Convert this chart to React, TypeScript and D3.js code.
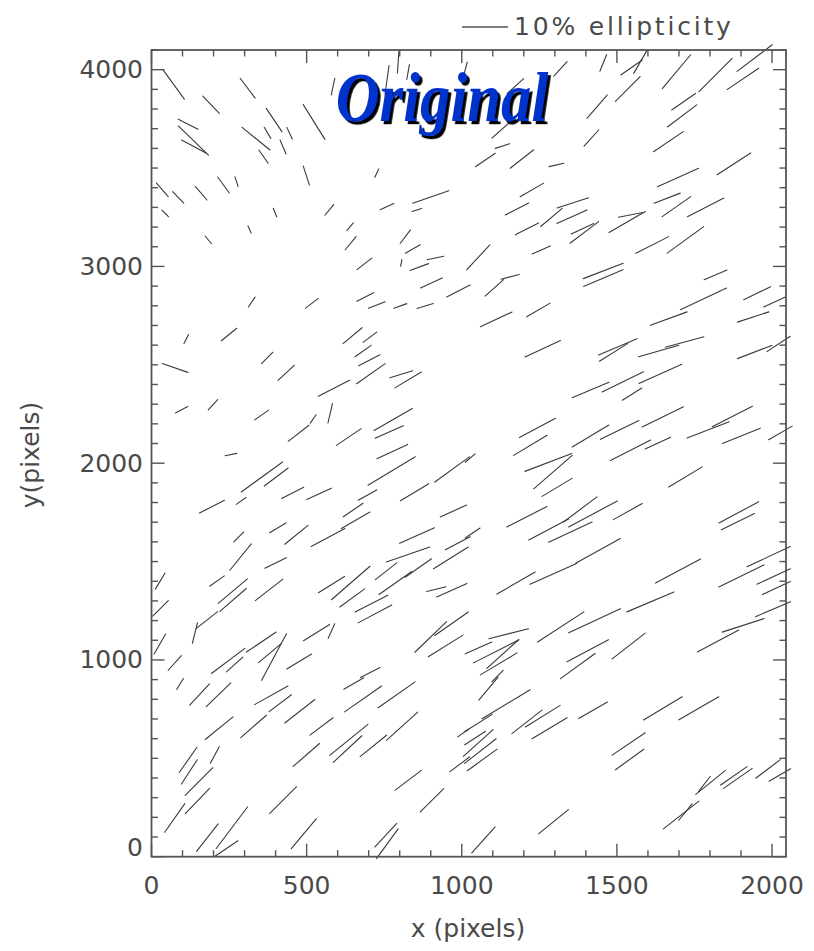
import React from "react";
import * as d3 from "d3";

// ---- stick (whisker) data: centre x, centre y (pixels), ellipticity, position angle (deg) ----
const stickX = [
  71,192,310,118,135,137,337,395,374,445,424,361,524,499,232,274,35,86,160,44,398,316,183,573,726,640,642,759,900,855,818,842,805,863,915,686,902,989,689,726,802,882,517,323,585,760,795,827,1011,
  1456,1547,1576,1692,1818,1906,1944,1715,1710,1666,1535,1436,1418,1318,1173,1127,1076,1131,1194,1305,1226,1178,1210,1289,1358,1355,1395,1389,1256,1053,1105,1156,1456,1456,1614,1533,1544,1662,1697,1692,1786,1721,1877,1818,1779,1952,2008,1247,
  112,250,76,373,434,97,198,355,588,648,704,682,702,707,805,827,521,576,474,636,779,766,776,256,356,402,455,540,774,696,848,969,
  1111,1667,1939,1261,1503,1489,1635,1718,1944,2021,1415,1519,1549,1640,1244,1221,1415,1509,1648,1794,1872,1901,2027,1279,1294,1307,1544,1632,1721,1027,
  195,289,650,973,407,281,467,569,658,856,987,287,400,211,262,263,379,28,29,140,179,27,75,247,268,354,382,395,476,532,580,580,642,647,709,720,756,786,860,827,965,918,968,900,967,948,705,
  1035,1210,1280,1382,1350,1423,1535,1893,1890,1175,1295,1439,1697,1989,1901,2005,2014,1608,1428,1319,1151,1054,1111,1119,1132,1115,1406,1374,1538,1826,1907,2003,
  92,155,216,386,415,478,218,329,548,652,682,790,636,632,715,808,499,118,122,204,153,148,75,424,180,259,241,491,827,904,755,760,993,1005,
  1086,1143,1054,1210,1261,1283,1423,1648,1764,1053,1060,1066,1043,1538,1541,1802,1782,1877,1890,1987,2025,1707,1721,1296,1070,
];
const stickY = [
  3926,3822,3906,3723,3640,3609,3649,3744,3679,3677,3607,3558,3734,3462,3414,3431,3389,3351,3372,3270,3274,3188,3135,3287,3474,3202,3118,3304,3353,3287,3151,3089,3018,2997,3043,3013,2916,2875,2845,2804,2799,2799,2813,2819,3914,3958,4039,3988,3999,
  4034,4011,4041,3990,3973,3953,4059,3837,3765,3634,3902,3812,3653,4004,3917,3694,3541,3612,3546,3516,3389,3292,3191,3249,3323,3253,3173,3191,3084,3046,2891,2947,2977,2941,3109,3226,3262,3347,3452,3304,3300,3135,3521,2957,2835,2864,2819,2779,
  2631,2654,2484,2535,2459,2272,2297,2245,2381,2648,2640,2570,2523,2455,2452,2423,2225,2254,2152,2133,2222,2159,2059,2044,1930,1930,1849,1844,1960,1838,1852,1968,
  2731,2735,2743,2582,2591,2563,2570,2616,2565,2606,2372,2413,2351,2454,2179,2091,2138,2169,2235,2169,2237,2139,2154,2004,1955,1877,2066,2102,1930,2026,
  1779,1808,1762,1757,1671,1625,1636,1622,1710,1632,1593,1523,1493,1401,1350,1305,1356,1401,1262,1137,1203,1081,985,995,977,1091,1035,1015,992,1139,1147,1383,1391,1315,1286,1234,1451,1391,1467,1536,1519,1360,1354,1117,1184,1071,936,
  1645,1728,1663,1765,1650,1742,1754,1750,1703,1391,1437,1554,1452,1525,1427,1424,1366,1295,1199,1168,1133,1061,1044,980,1030,918,1047,969,1071,1096,1176,1258,
  878,824,823,820,780,739,653,662,662,880,802,823,594,547,563,664,517,492,431,517,382,283,197,287,97,147,41,117,388,287,109,66,469,629,
  854,775,680,685,714,653,744,754,754,578,537,492,603,573,494,378,370,411,398,446,415,212,227,178,85,
];
const stickE = [
  .080,.052,.054,.048,.091,.061,.078,.061,.028,.028,.033,.035,.089,.043,.043,.022,.039,.035,.039,.020,.020,.017,.022,.030,.020,.022,.037,.033,.083,.022,.037,.037,.015,.043,.037,.041,.052,.057,.041,.039,.030,.037,.035,.026,.037,.054,.048,.033,.035,
  .039,.057,.059,.096,.102,.083,.096,.063,.080,.078,.076,.067,.048,.043,.048,.054,.052,.033,.065,.033,.059,.057,.057,.061,.072,.072,.078,.054,.043,.074,.054,.041,.093,.093,.080,.091,.054,.061,.098,.076,.089,.098,.087,.054,.111,.065,.052,.059,
  .022,.043,.059,.035,.048,.030,.030,.037,.076,.054,.037,.043,.052,.076,.052,.067,.022,.043,.057,.065,.096,.067,.074,.026,.111,.065,.054,.059,.120,.046,.072,.093,
  .076,.085,.072,.085,.091,.072,.091,.087,.080,.061,.087,.100,.050,.102,.089,.085,.093,.093,.100,.098,.098,.089,.059,.109,.111,.076,.098,.061,.085,.028,
  .061,.026,.052,.063,.041,.030,.065,.083,.072,.083,.061,.074,.052,.039,.083,.076,.076,.041,.048,.046,.059,.050,.043,.091,.048,.078,.065,.115,.063,.067,.035,.067,.111,.067,.080,.083,.059,.087,.070,.100,.089,.043,.072,.096,.089,.089,.048,
  .039,.098,.098,.091,.104,.120,.072,.098,.080,.096,.111,.111,.111,.104,.109,.080,.067,.111,.124,.120,.089,.063,.111,.093,.093,.035,.102,.093,.091,.102,.096,.083,
  .028,.063,.074,.083,.061,.083,.078,.074,.063,.050,.098,.098,.107,.085,.074,.091,.076,.067,.063,.041,.085,.076,.076,.083,.076,.113,.061,.085,.072,.072,.070,.080,.054,.030,
  .065,.122,.070,.083,.089,.089,.072,.098,.100,.087,.087,.080,.054,.087,.076,.083,.041,.070,.076,.067,.054,.098,.046,.083,.076,
];
const stickTheta = [
  -54,-46,-53,-27,-44,-28,-39,-56,-59,-65,-67,-55,-58,-72,-54,-72,-49,-46,-49,-45,-68,-66,-50,50,65,50,50,25,19,18,53,30,80,20,12,38,25,27,27,22,20,17,37,56,78,82,86,80,75,
  68,35,60,50,45,34,37,35,37,34,45,49,48,48,42,42,34,18,38,13,30,27,27,40,18,24,37,25,24,47,42,15,21,23,27,30,11,21,24,35,27,36,33,23,25,26,25,30,
  63,39,-19,45,43,28,47,35,27,40,37,35,27,35,17,31,55,77,38,34,30,24,25,11,36,37,27,25,31,29,31,36,
  25,20,18,25,23,32,16,15,21,33,23,26,32,24,28,31,31,26,26,21,27,22,30,21,41,31,27,25,31,40,
  27,35,34,24,31,45,39,28,30,24,28,51,26,35,40,41,38,59,45,76,38,60,48,37,42,34,40,62,31,32,66,32,41,36,27,28,38,35,35,19,32,14,24,44,35,32,27,
  34,27,28,37,25,28,29,28,26,30,24,29,28,25,26,25,25,23,25,33,14,24,27,31,42,45,28,36,38,28,18,23,
  59,47,44,29,37,38,39,41,37,30,35,35,39,43,39,42,41,55,57,62,45,46,55,45,52,53,34,50,37,45,47,54,37,35,
  50,31,32,38,32,31,30,31,30,42,38,36,33,34,36,39,52,35,35,37,30,38,51,39,48,
];

const xMajorTicks = [0, 500, 1000, 1500, 2000];
const yMajorTicks = [0, 1000, 2000, 3000, 4000];
const legendValue = 0.1;
const legendLabel = "10% ellipticity";
const titleText = "Original";
const xTitle = "x (pixels)";
const yTitle = "y(pixels)";

export default function App() {
  const W = 814, H = 951;
  const x = d3.scaleLinear().domain([0, 2045]).range([151.5, 786]);
  const y = d3.scaleLinear().domain([0, 4100]).range([856.7, 50]);
  const eLen = d3.scaleLinear().domain([0, 0.1]).range([0, 46]);

  const xMinor = d3.range(0, 2001, 100);
  const yMinor = d3.range(0, 4101, 100);
  const x0 = x.range()[0], x1 = x.range()[1];
  const y0 = y.range()[0], y1 = y.range()[1];
  const axisColor = "#555";
  const textColor = "#4a4a4a";
  const font = "'DejaVu Sans', Verdana, sans-serif";

  const sticks = stickX.map((sx, i) => {
    const cx = x(sx), cy = y(stickY[i]);
    const L = eLen(stickE[i]) / 2;
    const t = (stickTheta[i] * Math.PI) / 180;
    return { x1: cx - L * Math.cos(t), y1: cy + L * Math.sin(t), x2: cx + L * Math.cos(t), y2: cy - L * Math.sin(t) };
  });

  return (
    <svg width={W} height={H} style={{ position: "absolute", left: 0, top: 0, background: "#fff" }}>
      <defs>
        <filter id="titleShadow" x="-10%" y="-20%" width="130%" height="150%">
          <feDropShadow dx={3} dy={3} stdDeviation={0.4} floodColor="#000" floodOpacity={1} />
        </filter>
      </defs>

      {/* legend */}
      <line x1={462} x2={462 + eLen(legendValue)} y1={27} y2={27} stroke="#555" strokeWidth={1.6} />
      <text x={514} y={35} fontFamily={font} fontSize={25} fill={textColor} letterSpacing={2.8}>{legendLabel}</text>

      {/* sticks */}
      <g stroke="#3a3a3a" strokeWidth={1.1} strokeLinecap="round">
        {sticks.map((s, i) => (
          <line key={i} x1={s.x1} y1={s.y1} x2={s.x2} y2={s.y2} />
        ))}
      </g>

      {/* frame */}
      <rect x={x0} y={y1} width={x1 - x0} height={y0 - y1} fill="none" stroke={axisColor} strokeWidth={1.8} />
      <g stroke={axisColor} strokeWidth={1.4}>
        {xMinor.map((v) => {
          const len = v % 500 === 0 ? 13 : 6.5;
          return (
            <g key={"xm" + v}>
              <line x1={x(v)} x2={x(v)} y1={y0} y2={y0 - len} />
              <line x1={x(v)} x2={x(v)} y1={y1} y2={y1 + len} />
            </g>
          );
        })}
        {yMinor.map((v) => {
          const len = v % 1000 === 0 ? 13 : 6.5;
          return (
            <g key={"ym" + v}>
              <line x1={x0} x2={x0 + len} y1={y(v)} y2={y(v)} />
              <line x1={x1} x2={x1 - len} y1={y(v)} y2={y(v)} />
            </g>
          );
        })}
      </g>

      {/* tick labels */}
      <g fontFamily={font} fontSize={25} fill={textColor}>
        {xMajorTicks.map((v) => (
          <text key={"xl" + v} x={x(v)} y={894} textAnchor="middle">{v}</text>
        ))}
        {yMajorTicks.map((v) => (
          <text key={"yl" + v} x={143} y={y(v) - (v === 0 ? 9 : 0)} textAnchor="end" dominantBaseline="central">{v}</text>
        ))}
        <text x={468} y={937} textAnchor="middle">{xTitle}</text>
        <text transform={`translate(39,455) rotate(-90)`} textAnchor="middle">{yTitle}</text>
      </g>

      {/* title */}
      <text
        transform="translate(442,121) scale(0.92,1.06)"
        fontFamily="'Liberation Serif', 'Times New Roman', serif"
        fontSize={66}
        fontWeight="bold"
        fontStyle="italic"
        textAnchor="middle"
        fill="#0033cc"
        filter="url(#titleShadow)"
      >
        {titleText}
      </text>
    </svg>
  );
}
